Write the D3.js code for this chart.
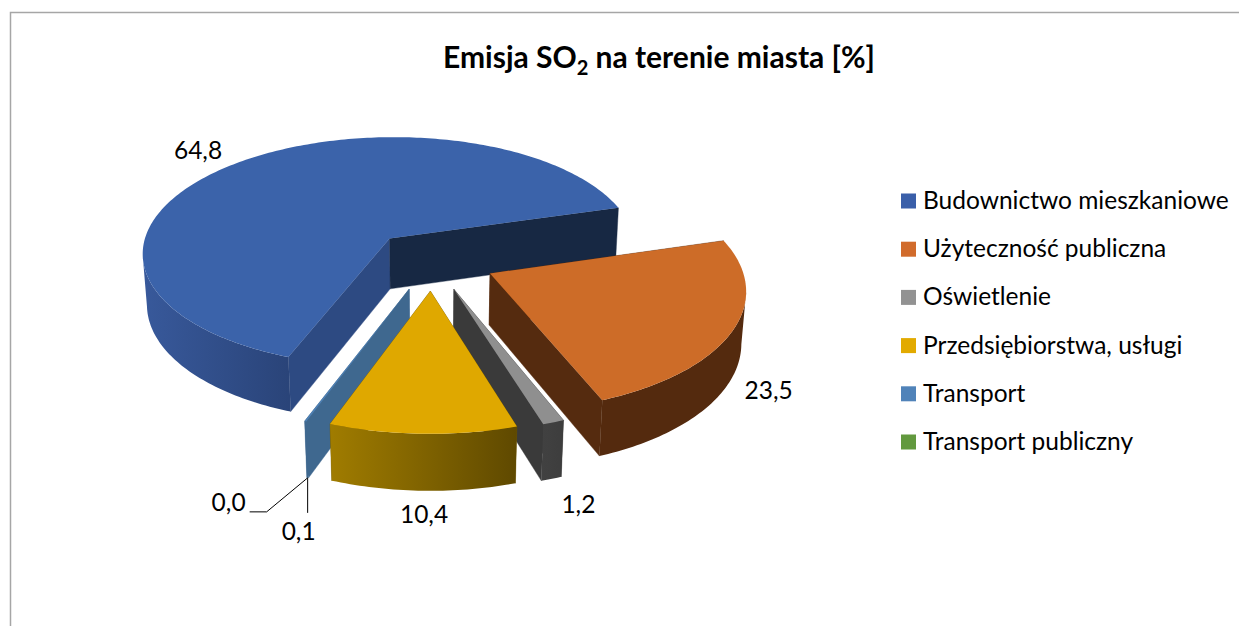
<!DOCTYPE html>
<html><head><meta charset="utf-8">
<script src="https://cdn.jsdelivr.net/npm/d3@7"></script>
<style>html,body{margin:0;background:#fff}svg{display:block}text{font-family:Lato,Carlito,sans-serif;fill:#000}</style>
</head><body><svg id="c" width="1239" height="626"></svg>
<script>
const categories=["Budownictwo mieszkaniowe","Użyteczność publiczna","Oświetlenie","Przedsiębiorstwa, usługi","Transport","Transport publiczny"];
const values=[64.8,23.5,1.2,10.4,0.1,0.0];
const valueLabels=["64,8","23,5","1,2","10,4","0,1","0,0"];
const topColors=["#3b63aa","#cd6c28","#8f8f8f","#dfa800","#4f81b5","#5f9a3f"];
const legendColors=["#3a5fa9","#d16b2b","#929292","#e2aa00","#5083b9","#62993e"];
const startWalls=["#2d4a82","#552b0f","#3a3a3a","#6f5500","#3f688f","#3f6a2a"];
const endWalls=["#172843","#552b0f","#3a3a3a","#6f5500","#3f688f","#3f6a2a"];
const outerLeft=["#38599b","#542a0e","#414141","#a07c00","#3f688f","#3f6a2a"];
const outerRight=["#2a4479","#542a0e","#3d3d3d","#5f4900","#3f688f","#3f6a2a"];

const g={cx:432,cy:260,rx:250,ry:118,p:0.118,q:0.015,h:52,explode:0.255,start:-159.5*Math.PI/180};
const labelOffsets=[[-44,-60],[40,6],[27,25],[1,23],[-9,53],[-78,24]];

const svg=d3.select("#c");
const defs=svg.append("defs");
svg.append("path").attr("d","M1239,12.5H10.5V626").attr("fill","none").attr("stroke","#a6a6a6").attr("stroke-width",1.5);

const TAU=2*Math.PI;
const pie=d3.pie().sort(null).startAngle(g.start).endAngle(g.start+TAU);
const arcs=pie(values).map((d,i)=>({...d,i,mid:(d.startAngle+d.endAngle)/2}));

function project(a,o,r,z){
  const u=o*Math.sin(a.mid)+r*Math.sin(a.ang),v=-(o*Math.cos(a.mid)+r*Math.cos(a.ang));
  const d=1-g.p*v+g.q*z;
  return [g.cx+g.rx*u/d,g.cy+(g.ry*v+g.h*z)/d];
}
const pt=(s,ang,r,z)=>project({mid:s.mid,ang},g.explode,r,z);
function arcAngles(s){
  const n=Math.max(2,Math.ceil((s.endAngle-s.startAngle)/(Math.PI/180)));
  return d3.range(n+1).map(k=>s.startAngle+(s.endAngle-s.startAngle)*k/n);
}
const norm=a=>((a%TAU)+TAU)%TAU;
const line=d3.line();
const order=arcs.filter(d=>d.value>0).sort((a,b)=>d3.ascending(-Math.cos(a.mid),-Math.cos(b.mid)));
const plot=svg.append("g");
order.forEach(s=>{
  const gs=plot.append("g");
  const angs=arcAngles(s);
  const wall=(ang,col)=>gs.append("path").attr("fill",col).attr("stroke",col).attr("stroke-width",.4)
    .attr("d",line([pt(s,ang,0,0),pt(s,ang,1,0),pt(s,ang,1,1),pt(s,ang,0,1)])+"Z");
  wall(s.startAngle,startWalls[s.i]);
  wall(s.endAngle,endWalls[s.i]);
  const topArc=angs.map(a=>pt(s,a,1,0));
  // only the part of the rim between its left and right silhouette points faces the viewer
  const circle=d3.range(0,TAU,Math.PI/360);
  const aR=circle[d3.greatestIndex(circle,a=>pt(s,a,1,0)[0])];
  const aL=circle[d3.leastIndex(circle,a=>pt(s,a,1,0)[0])];
  const fa=angs.filter(a=>norm(a)>=aR&&norm(a)<=aL);
  if(fa.length>1){
    const xs=d3.extent(fa.map(a=>pt(s,a,1,0)[0]));
    const id="o"+s.i;
    const lg=defs.append("linearGradient").attr("id",id).attr("gradientUnits","userSpaceOnUse")
      .attr("x1",xs[0]).attr("x2",xs[1]).attr("y1",0).attr("y2",0);
    lg.append("stop").attr("offset",0).attr("stop-color",outerLeft[s.i]);
    lg.append("stop").attr("offset",1).attr("stop-color",outerRight[s.i]);
    gs.append("path").attr("fill",`url(#${id})`)
      .attr("d",line(fa.map(a=>pt(s,a,1,0)).concat(fa.map(a=>pt(s,a,1,1)).reverse()))+"Z");
  }
  gs.append("path").attr("fill",topColors[s.i]).attr("d",line([pt(s,s.startAngle,0,0)].concat(topArc))+"Z");
});

// leader lines for the two smallest slices
const tr=arcs[4],rim=pt(tr,tr.mid,1,1);
const lbl=i=>{const s=arcs[i],o=labelOffsets[i],b=pt(s,s.mid,1,1);return [b[0]+o[0],b[1]+o[1]];};
svg.append("path").attr("fill","none").attr("stroke","#000").attr("stroke-width",1)
  .attr("d",line([rim,[rim[0],rim[1]+35]])+line([rim,[rim[0]-41,rim[1]+34],[rim[0]-58,rim[1]+34]]));

svg.append("g").selectAll("text").data(arcs).join("text")
  .attr("x",d=>lbl(d.i)[0]).attr("y",d=>lbl(d.i)[1]).attr("text-anchor","middle").attr("dominant-baseline","central")
  .attr("font-size",24.5).text(d=>valueLabels[d.i]);

const ly=d3.scalePoint().domain(categories).range([201,442]);
const lgd=svg.append("g").selectAll("g").data(categories).join("g").attr("transform",d=>`translate(901,${ly(d)})`);
lgd.append("rect").attr("y",-7.5).attr("width",15).attr("height",15).attr("fill",(d,i)=>legendColors[i]);
lgd.append("text").attr("x",22).attr("y",8).attr("font-size",24.5).text(d=>d);

const t=svg.append("text").attr("x",659).attr("y",68).attr("text-anchor","middle").attr("font-size",30).attr("font-weight",700);
t.append("tspan").text("Emisja SO");
t.append("tspan").attr("font-size",20).attr("dy",7).text("2");
t.append("tspan").attr("dy",-7).text(" na terenie miasta [%]");
</script></body></html>
